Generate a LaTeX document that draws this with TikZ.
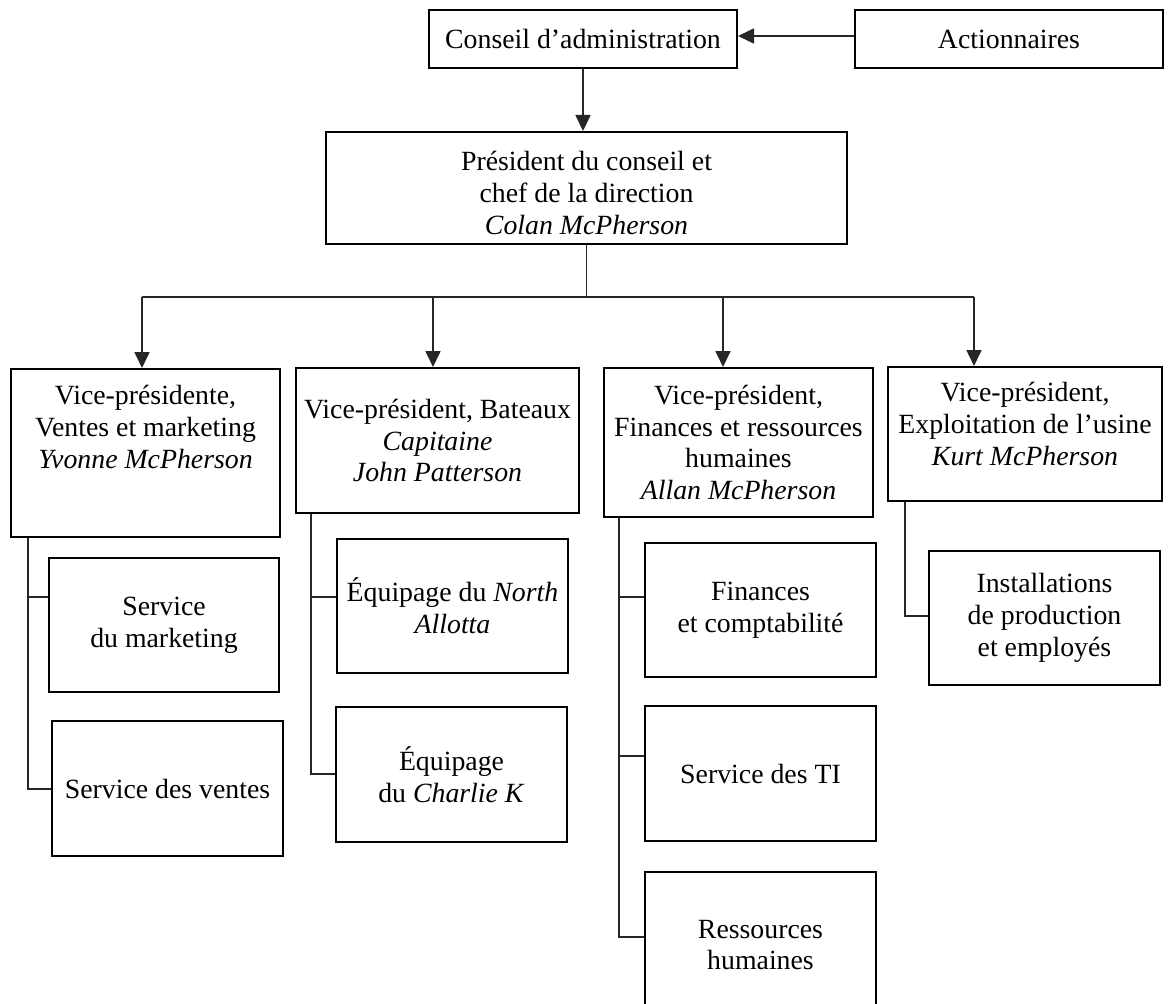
\documentclass[tikz,border=0pt]{standalone}
\usepackage{fontspec}
\setmainfont{Liberation Serif}
\usetikzlibrary{arrows.meta}
\begin{document}
\begin{tikzpicture}[x=1pt,y=-1pt,
  box/.style={draw=black, line width=2pt, align=center, inner sep=0pt,
    font=\fontsize{27.8}{31.8}\selectfont},
  sz/.style 2 args={minimum width=#1pt, minimum height=#2pt},
  conn/.style={draw=black!85, line width=1.7pt},
  arr/.style={conn, -{Triangle[length=16pt,width=15pt]}}]
\useasboundingbox (0,0) rectangle (1174,1003);
\fill[white] (0,0) rectangle (1174,1003);
\clip (0,0) rectangle (1174,1003);

% top
\node[box, sz={308}{58}] (cons) at (583,39) {Conseil d’administration};
\node[box, sz={308}{58}] (act) at (1009,39) {Actionnaires};
\node[box, sz={521}{112}] (pres) at (586.5,188)
  {\rule{0pt}{29pt}Président du conseil et\\chef de la direction\\\textit{Colan McPherson}};

% vice-presidents
\node[box, sz={269}{168}] (vp1) at (145.5,453)
  {Vice-présidente,\\Ventes et marketing\\\textit{Yvonne McPherson}\rule[-52pt]{0pt}{52pt}};
\node[box, sz={283}{145}] (vp2) at (437.5,440.5)
  {Vice-président, Bateaux\\\textit{Capitaine}\\\textit{John Patterson}};
\node[box, sz={269}{149}] (vp3) at (738.5,442.5)
  {Vice-président,\\Finances et ressources\\humaines\\\textit{Allan McPherson}};
\node[box, sz={274}{134}] (vp4) at (1025,434)
  {Vice-président,\\Exploitation de l’usine\\\textit{Kurt McPherson}\rule[-20pt]{0pt}{20pt}};

% services
\node[box, sz={230}{134}] (mkt) at (164,625) {Service\\du marketing};
\node[box, sz={231}{135}] (ven) at (167.5,788.5) {Service des ventes};
\node[box, sz={231}{134}] (nor) at (452.5,606) {Équipage du \textit{North}\\\textit{Allotta}};
\node[box, sz={231}{135}] (cha) at (451.5,774.5) {Équipage\\du \textit{Charlie K}};
\node[box, sz={231}{134}] (fin) at (760.5,610) {Finances\\et comptabilité};
\node[box, sz={231}{135}] (ti) at (760.5,773.5) {Service des TI};
\node[box, sz={231}{146}] (rh) at (760.5,945) {Ressources\\humaines};
\node[box, sz={231}{134}] (ins) at (1044.5,618) {Installations\\de production\\et employés};

% top connectors
\draw[arr] ([yshift=3pt]act.west) -- ([yshift=3pt]cons.east);
\draw[arr] (cons.south) -- (cons.south |- pres.north);

\coordinate (d1) at (142,297);
\coordinate (d2) at (433,297);
\coordinate (d3) at (723,297);
\coordinate (d4) at (974,297);
\draw[conn] (d1) -- (d4);
\draw[conn] (pres.south) -- (pres.south |- d1);
\draw[arr] (d1) -- (d1 |- vp1.north);
\draw[arr] (d2) -- (d2 |- vp2.north);
\draw[arr] (d3) -- (d3 |- vp3.north);
\draw[arr] (d4) -- (d4 |- vp4.north);

% spines
\coordinate (s1) at (28,789);  \coordinate (t1) at (28,597);
\draw[conn] (vp1.south -| s1) -- (s1) -- (s1 -| ven.west);
\draw[conn] (t1) -- (t1 -| mkt.west);

\coordinate (s2) at (311,774); \coordinate (t2) at (311,597);
\draw[conn] (vp2.south -| s2) -- (s2) -- (s2 -| cha.west);
\draw[conn] (t2) -- (t2 -| nor.west);

\coordinate (s3) at (619,937); \coordinate (t3) at (619,597); \coordinate (u3) at (619,756);
\draw[conn] (vp3.south -| s3) -- (s3) -- (s3 -| rh.west);
\draw[conn] (t3) -- (t3 -| fin.west);
\draw[conn] (u3) -- (u3 -| ti.west);

\coordinate (s4) at (905,616);
\draw[conn] (vp4.south -| s4) -- (s4) -- (s4 -| ins.west);
\end{tikzpicture}
\end{document}
